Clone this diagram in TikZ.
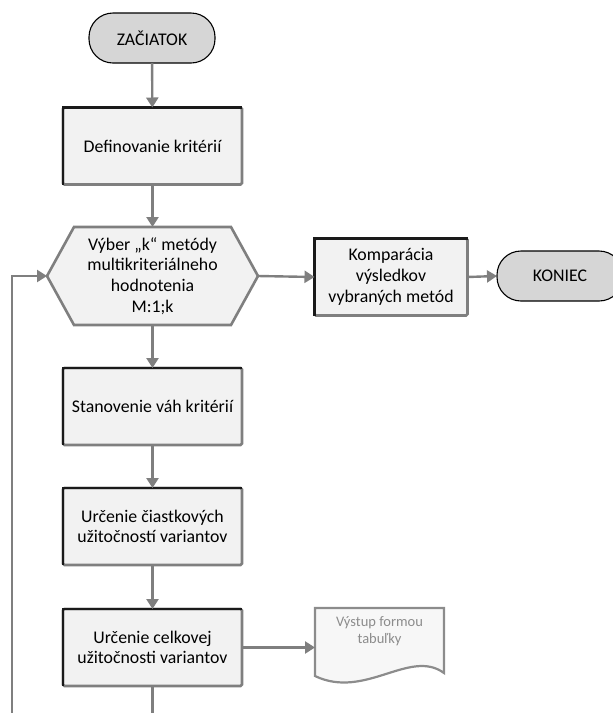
\documentclass[tikz,border=0pt]{standalone}
\usepackage{fontspec}
\setmainfont{Carlito}
\usetikzlibrary{arrows.meta}
\definecolor{boxfill}{HTML}{F2F2F2}
\definecolor{termfill}{HTML}{D6D6D6}
\definecolor{linegray}{HTML}{7F7F7F}
\definecolor{edgedark}{HTML}{1A1A1A}
\definecolor{docgray}{HTML}{8C8C8C}
\begin{document}
\begin{tikzpicture}[x=1pt,y=-1pt,
  every node/.style={font=\fontsize{17.8}{20.7}\selectfont, align=center, inner sep=0pt, outer sep=0pt},
  terminal/.style={draw=black, line width=1.1pt, fill=termfill, rounded corners=24pt,
                   minimum width=126pt, minimum height=50pt},
  procbox/.style={draw=linegray, line width=2.6pt, fill=boxfill, rounded corners=1.5pt,
                  minimum width=179pt, minimum height=77pt},
  darkedge/.style={draw=edgedark, line width=2.8pt},
  hexline/.style={draw=linegray, line width=2.6pt, fill=boxfill, line join=miter},
  docline/.style={draw=docgray, line width=2.2pt, fill=boxfill!60!white},
  flow/.style={draw=linegray, line width=2.4pt, -{Triangle[width=12pt,length=10pt]}},
  plainflow/.style={draw=linegray, line width=2.4pt}
]
\useasboundingbox (0,0) rectangle (613,713);

% decision hexagon outline
\path[hexline] (74,227) -- (231,227) -- (258,276) -- (231,325) -- (74,325) -- (47,276) -- cycle;

% output document outline with a wavy lower edge
\path[docline] (315,608) -- (444,608) -- (444,673)
  .. controls (410,648) and (365,700) .. (315,676) -- cycle;

% nodes
\node[terminal] (start) at (152,38) {ZAČIATOK};
\node[procbox] (def)  at (152.5,146) {Definovanie kritérií};
\node[minimum width=211pt, minimum height=98pt] (hex) at (152.5,276)
  {Výber „k“ metódy\\multikriteriálneho\\hodnotenia\\M:1;k};
\node[procbox, minimum width=153pt] (komp) at (391,277) {Komparácia\\výsledkov\\vybraných metód};
\node[terminal] (end) at (560,276) {KONIEC};
\node[procbox] (stan) at (152.5,406.5) {Stanovenie váh kritérií};
\node[procbox] (cias) at (152.5,526.5) {Určenie čiastkových\\užitočností variantov};
\node[procbox] (celk) at (152.5,647.5) {Určenie celkovej\\užitočnosti variantov};
\node[minimum width=129pt, minimum height=68pt,
      label={[anchor=north, yshift=-9pt, text=docgray,
              font=\fontsize{14.5}{17}\selectfont, align=center]north:Výstup formou\\tabuľky}]
  (doc) at (379.5,642) {};

% dark upper-left edges of the process boxes
\foreach \n in {def,stan,cias,celk,komp}
  \draw[darkedge] (\n.south west) -- (\n.north west) -- (\n.north east);

% loop end points
\coordinate (loopout) at (152.5,713);
\coordinate (loopin) at (12,713);

% connectors
\draw[flow] (start) -- (def);
\draw[flow] (def) -- (hex);
\draw[flow] (hex.east) -- (komp.west);
\draw[flow] (komp.east) -- (end.west);
\draw[flow] (hex) -- (stan);
\draw[flow] (stan) -- (cias);
\draw[flow] (cias) -- (celk);
\draw[flow] (celk.east) -- (celk.east -| doc.west);
\draw[plainflow] (celk.south) -- (loopout);
\draw[flow] (loopin) |- (hex.west);
\end{tikzpicture}
\end{document}
